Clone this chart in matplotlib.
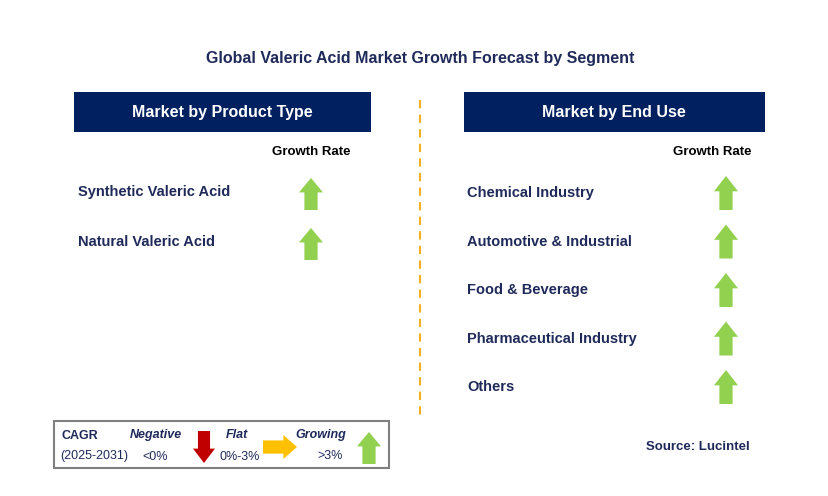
import matplotlib
matplotlib.use('Agg')
import matplotlib.pyplot as plt
from matplotlib.patches import Polygon, Rectangle

plt.rcParams['font.family'] = 'Liberation Sans'

title = 'Global Valeric Acid Market Growth Forecast by Segment'
left_header = 'Market by Product Type'
right_header = 'Market by End Use'
product_types = ['Synthetic Valeric Acid', 'Natural Valeric Acid']
product_trend = ['up', 'up']
end_uses = ['Chemical Industry', 'Automotive & Industrial', 'Food & Beverage',
            'Pharmaceutical Industry', 'Others']
end_use_trend = ['up', 'up', 'up', 'up', 'up']

NAVY = '#002060'
TXT = '#1F2A5A'
GREEN = '#92D050'
RED = '#C00000'
YELLOW = '#FFC000'

fig = plt.figure(figsize=(8.29, 4.96), dpi=100)
ax = fig.add_axes([0, 0, 1, 1])
ax.set_xlim(0, 829); ax.set_ylim(496, 0); ax.axis('off')

def up_arrow(cx, top, w=24, h=32, color=GREEN):
    hh = h * 0.45
    sw = w * 0.55
    pts = [(cx, top), (cx + w/2, top + hh), (cx + sw/2, top + hh), (cx + sw/2, top + h),
           (cx - sw/2, top + h), (cx - sw/2, top + hh), (cx - w/2, top + hh)]
    ax.add_patch(Polygon(pts, closed=True, color=color, lw=0))

def down_arrow(cx, top, w=24, h=32, color=RED):
    hh = h * 0.45
    sw = w * 0.55
    b = top + h
    pts = [(cx, b), (cx + w/2, b - hh), (cx + sw/2, b - hh), (cx + sw/2, top),
           (cx - sw/2, top), (cx - sw/2, b - hh), (cx - w/2, b - hh)]
    ax.add_patch(Polygon(pts, closed=True, color=color, lw=0))

def right_arrow(left, cy, w=34, h=22, color=YELLOW):
    hw = w * 0.4
    sh = h * 0.55
    pts = [(left + w, cy), (left + w - hw, cy - h/2), (left + w - hw, cy - sh/2), (left, cy - sh/2),
           (left, cy + sh/2), (left + w - hw, cy + sh/2), (left + w - hw, cy + h/2)]
    ax.add_patch(Polygon(pts, closed=True, color=color, lw=0))

ax.text(420, 58, title, ha='center', va='center', fontsize=11.5, fontweight='bold', color=TXT)

# headers
ax.add_patch(Rectangle((74, 92), 297, 40, color=NAVY, lw=0))
ax.text(222, 113, left_header, ha='center', va='center', fontsize=11.5, fontweight='bold', color='white')
ax.add_patch(Rectangle((464, 92), 301, 40, color=NAVY, lw=0))
ax.text(614, 113, right_header, ha='center', va='center', fontsize=11.5, fontweight='bold', color='white')

# divider
ax.plot([420, 420], [100, 415], ls=(0, (4, 3)), color='#F5B021', lw=1.5)

ax.text(311, 152, 'Growth Rate', ha='center', va='center', fontsize=9.5, fontweight='bold', color='black')
ax.text(712, 152, 'Growth Rate', ha='center', va='center', fontsize=9.5, fontweight='bold', color='black')

for i, (name, tr) in enumerate(zip(product_types, product_trend)):
    y = 192 + i * 50
    ax.text(78, y, name, ha='left', va='center', fontsize=10.5, fontweight='bold', color=TXT)
    up_arrow(311, y - 14)

for i, (name, tr) in enumerate(zip(end_uses, end_use_trend)):
    y = 193 + i * 48.5
    ax.text(467, y, name, ha='left', va='center', fontsize=10.5, fontweight='bold', color=TXT)
    up_arrow(726, y - 17, h=34)

# legend box
ax.add_patch(Rectangle((54, 421), 335, 47, fill=False, ec='#7F7F7F', lw=1.5))
ax.text(62, 436, 'CAGR', fontsize=9, fontweight='bold', color=TXT, va='center')
ax.text(60, 456, '(2025-2031)', fontsize=9, color=TXT, va='center')
ax.text(156, 435, 'Negative', fontsize=9, fontweight='bold', style='italic', color=TXT, va='center', ha='center')
ax.text(155, 457, '<0%', fontsize=9, color=TXT, va='center', ha='center')
down_arrow(204, 431, w=22, h=32)
ax.text(237, 435, 'Flat', fontsize=9, fontweight='bold', style='italic', color=TXT, va='center', ha='center')
ax.text(240, 457, '0%-3%', fontsize=9, color=TXT, va='center', ha='center')
right_arrow(263, 447, w=34, h=24)
ax.text(321, 435, 'Growing', fontsize=9, fontweight='bold', style='italic', color=TXT, va='center', ha='center')
ax.text(330, 456, '>3%', fontsize=9, color=TXT, va='center', ha='center')
up_arrow(369, 432, w=24, h=32)

ax.text(750, 447, 'Source: Lucintel', ha='right', va='center', fontsize=9.5, fontweight='bold', color=TXT)

fig.savefig('out.png', dpi=100)
